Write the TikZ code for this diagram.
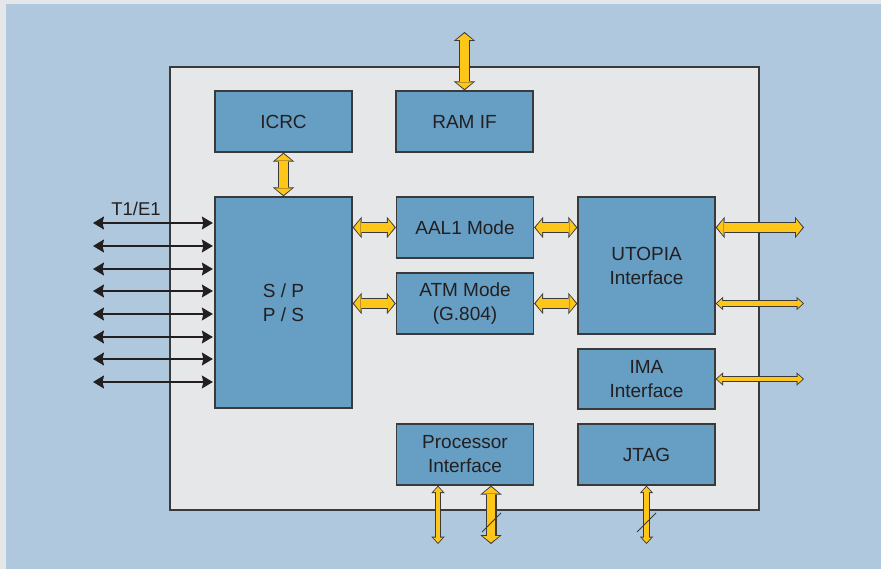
\documentclass[tikz,border=0pt]{standalone}
\usepackage{fontspec}
\setmainfont{Liberation Sans}
\usetikzlibrary{arrows.meta}
\definecolor{pagebg}{RGB}{176,200,222}
\definecolor{margc}{RGB}{229,230,232}
\definecolor{chipc}{RGB}{230,231,233}
\definecolor{blockc}{RGB}{102,159,195}
\definecolor{edgec}{RGB}{58,58,58}
\definecolor{busc}{RGB}{255,198,26}
\definecolor{textc}{RGB}{35,31,32}

\begin{document}
\begin{tikzpicture}[x=1pt,y=-1pt,font=\fontsize{19}{24}\selectfont,
  blk/.style={draw=edgec,line width=1.3pt,fill=blockc,text=textc,align=center,inner sep=0pt,minimum width=137pt,minimum height=61pt},
  wbus/.style={draw=busc,line width=8.5pt,shorten <=1.4pt,shorten >=1.4pt,
    {Triangle[length=6.5pt,width=16.5pt,line width=0pt]}-{Triangle[length=6.5pt,width=16.5pt,line width=0pt]},
    preaction={draw=edgec,line width=11pt,shorten <=0pt,shorten >=0pt,
      {Triangle[length=9pt,width=21.5pt,line width=0pt]}-{Triangle[length=9pt,width=21.5pt,line width=0pt]}}},
  nbus/.style={draw=busc,line width=4.5pt,shorten <=1.3pt,shorten >=1.3pt,
    {Triangle[length=5.2pt,width=9.5pt,line width=0pt]}-{Triangle[length=5.2pt,width=9.5pt,line width=0pt]},
    preaction={draw=edgec,line width=6.5pt,shorten <=0pt,shorten >=0pt,
      {Triangle[length=7.5pt,width=13.5pt,line width=0pt]}-{Triangle[length=7.5pt,width=13.5pt,line width=0pt]}}},
  tline/.style={draw=textc,line width=1.1pt,shorten >=1.5pt,{Stealth[length=11pt,width=13pt,inset=1.5pt]}-{Stealth[length=11pt,width=13pt,inset=1.5pt]}}]
\useasboundingbox (0,0) rectangle (881,569);
\fill[margc] (0,0) rectangle (881,569);
\fill[pagebg] (6,4) rectangle (881,569);
\draw[draw=edgec,fill=chipc,line width=1.5pt] (170,67) rectangle (759,510);

\node[blk] (icrc) at (283.5,121.5) {ICRC};
\node[blk] (ramif) at (464.5,121.5) {RAM IF};
\node[blk,minimum height=211pt] (sp) at (283.5,302.5) {S / P\\P / S};
\node[blk] (aal) at (465,227.5) {AAL1 Mode};
\node[blk] (atm) at (465,303.5) {ATM Mode\\(G.804)};
\node[blk,minimum height=137pt] (utopia) at (646.5,265.5) {UTOPIA\\Interface};
\node[blk,minimum height=60pt] (ima) at (646.5,379) {IMA\\Interface};
\node[blk] (proc) at (465,454.5) {Processor\\Interface};
\node[blk] (jtag) at (646.5,454.5) {JTAG};

\coordinate (ramtop) at (464.5,32);
\coordinate (u1) at (804,227.5);
\coordinate (u2) at (804,303.5);
\coordinate (ima1) at (804,379);
\coordinate (p1) at (438,544);
\coordinate (p2) at (491,544);
\coordinate (j1) at (646.5,544);

\draw[wbus] (icrc.south) -- (sp.north);
\draw[wbus] (ramtop) -- (ramif.north);
\draw[wbus] (sp.east |- aal.west) -- (aal.west);
\draw[wbus] (aal.east) -- (utopia.west |- aal.east);
\draw[wbus] (sp.east |- atm.west) -- (atm.west);
\draw[wbus] (atm.east) -- (utopia.west |- atm.east);
\draw[wbus] (utopia.east |- u1) -- (u1);
\draw[nbus] (utopia.east |- u2) -- (u2);
\draw[nbus] (ima.east) -- (ima1);
\draw[nbus] (p1 |- proc.south) -- (p1);
\draw[wbus] (p2 |- proc.south) -- (p2);
\draw[nbus] (jtag.south) -- (j1);

\draw[edgec,line width=0.8pt] (482,532) -- (501,513);
\draw[edgec,line width=0.8pt] (637,532) -- (656,513);

\foreach \Y [count=\i] in {223,246,269,291,314,337,359,382}
{
  \coordinate (t\i) at (93,\Y);
  \draw[tline] (t\i) -- (t\i -| sp.west);
}
\node[text=textc,font=\fontsize{18.5}{22}\selectfont] (t1e1) at (136,209) {T1/E1};
\end{tikzpicture}
\end{document}
